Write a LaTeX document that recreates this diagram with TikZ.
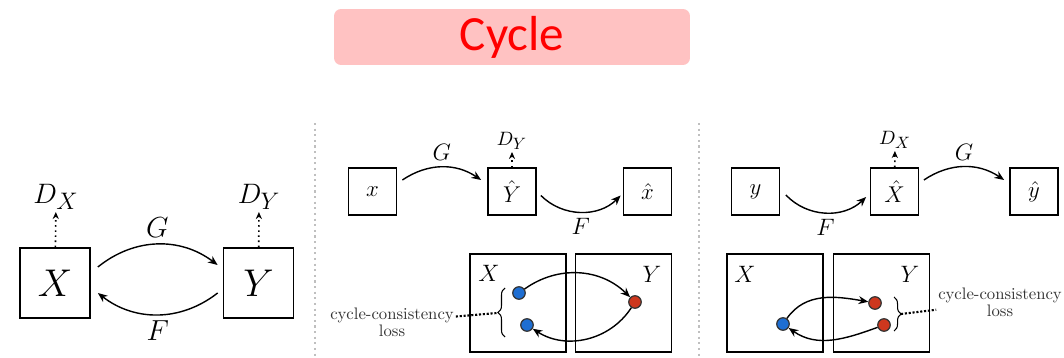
\RequirePackage{fix-cm}
\documentclass[tikz,border=0pt]{standalone}
\usepackage{fontspec}
\newfontfamily\titlefont{Carlito}
\usetikzlibrary{arrows.meta,decorations.pathreplacing}
\definecolor{titlepink}{RGB}{255,194,194}
\definecolor{titlered}{RGB}{255,0,0}
\definecolor{ptblue}{RGB}{30,110,210}
\definecolor{ptred}{RGB}{205,55,30}
\newcommand\discsub[2]{$#1_{\mbox{\scalebox{0.85}{$#2$}}}$}

\begin{document}
\begin{tikzpicture}[x=0.02cm, y=-0.02cm,
    box/.style={draw, line width=1pt, inner sep=0pt},
    smallbox/.style={box, minimum width=0.96cm, minimum height=0.94cm, font=\fontsize{13}{15}\selectfont},
    bigbox/.style={box, minimum width=1.92cm, minimum height=1.96cm},
    arr/.style={-{Stealth[length=5.5pt,width=4.5pt]}, line width=0.8pt},
    disc/.style={dotted, line width=0.9pt, -{Stealth[length=4pt,width=3.5pt]}},
    dot/.style={circle, draw=black!80, line width=0.7pt, minimum size=0.25cm, inner sep=0pt},
    sep/.style={dotted, gray!50, line width=1.2pt},
    brace/.style={decorate, decoration={brace, amplitude=4pt}, line width=0.6pt},
    lossline/.style={densely dotted, line width=1.2pt},
    losstext/.style={align=center, text=black!80, inner sep=1pt, font=\fontsize{9.5}{8.5}\selectfont},
    lblbig/.style={font=\fontsize{16.5}{19}\selectfont},
    lblmid/.style={font=\fontsize{13.5}{16}\selectfont},
    dbig/.style={inner sep=1pt, font=\fontsize{16}{18}\selectfont},
    dsmall/.style={inner sep=1pt, font=\fontsize{11}{13}\selectfont}]
  \useasboundingbox (0,0) rectangle (1064,358);

  % title
  \node[fill=titlepink, rounded corners=4pt, minimum width=7.12cm, minimum height=1.12cm,
        text=titlered, font=\titlefont\fontsize{28}{32}\selectfont] (title) at (512,37) {Cycle};

  % dividers
  \coordinate (s1t) at (315,123);
  \coordinate (s1b) at (315,358);
  \coordinate (s2t) at (699,123);
  \coordinate (s2b) at (699,358);
  \draw[sep] (s1t) -- (s1b);
  \draw[sep] (s2t) -- (s2b);

  % panel 1
  \node[box, minimum size=1.4cm, font=\fontsize{22}{26}\selectfont] (X) at (55,283) {$X$};
  \node[box, minimum size=1.4cm, font=\fontsize{22}{26}\selectfont] (Y) at (258.5,283) {$Y$};
  \node[dbig] (DX) at (56,197) {\discsub{D}{X}};
  \node[dbig] (DY) at (259,197) {\discsub{D}{Y}};
  \draw[disc] (X) -- (DX);
  \draw[disc] (Y) -- (DY);
  \draw[arr] ([shift={(7,-16)}]X.east) to[bend left=38]
    node[lblbig, above] {$G$} ([shift={(-5,-18)}]Y.west);
  \draw[arr] ([shift={(-5,10)}]Y.west) to[bend left=38]
    node[lblbig, below] {$F$} ([shift={(7,10)}]X.east);

  % panel 2, top row
  \node[smallbox] (x2) at (372.5,191.5) {$x$};
  \node[smallbox] (Yh2) at (512,191.5) {$\hat{Y}$};
  \node[smallbox] (xh2) at (647.5,191.5) {$\hat{x}$};
  \node[dsmall] (DY2) at (512,141) {\discsub{D}{Y}};
  \draw[disc] (Yh2) -- (DY2);
  \draw[arr] ([shift={(5,-11.5)}]x2.east) to[bend left=34]
    node[lblmid, above] {$G$} ([shift={(-6,-11.5)}]Yh2.west);
  \draw[arr] ([shift={(4,4)}]Yh2.east) to[bend right=45]
    node[lblmid, below] {$F$} ([shift={(-2,4)}]xh2.west);

  % panel 2, bottom row
  \node[bigbox] (BX2) at (518,303) {};
  \node[bigbox] (BY2) at (623.5,303) {};
  \node[lblmid] (BXl2) at (489,273) {$X$};
  \node[lblmid] (BYl2) at (652,274) {$Y$};
  \node[dot, fill=ptblue] (b21) at (519,293) {};
  \node[dot, fill=ptblue] (b22) at (527,325) {};
  \node[dot, fill=ptred] (r21) at (635,302) {};
  \draw[arr] (b21) to[bend left=40] (r21);
  \draw[arr] (r21) to[bend left=45] (b22);
  \coordinate (brL1) at (505,337);
  \coordinate (brL2) at (505,288);
  \coordinate (brLt) at (497,313);
  \draw[brace] (brL1) -- (brL2);
  \node[losstext] (lossL) at (392,322) {cycle-consistency\\loss};
  \draw[lossline] (lossL) -- (brLt);

  % panel 3, top row
  \node[smallbox] (y3) at (755.5,191.5) {$y$};
  \node[smallbox] (Xh3) at (894.5,191.5) {$\hat{X}$};
  \node[smallbox] (yh3) at (1034,191.5) {$\hat{y}$};
  \node[dsmall] (DX3) at (895,140) {\discsub{D}{X}};
  \draw[disc] (Xh3) -- (DX3);
  \draw[arr] ([shift={(5.5,3.5)}]y3.east) to[bend right=45]
    node[lblmid, below] {$F$} ([shift={(-3.5,5.5)}]Xh3.west);
  \draw[arr] ([shift={(4.5,-11.5)}]Xh3.east) to[bend left=34]
    node[lblmid, above] {$G$} ([shift={(-5,-11.5)}]yh3.west);

  % panel 3, bottom row
  \node[bigbox] (BX3) at (775,303) {};
  \node[bigbox] (BY3) at (881.5,303) {};
  \node[lblmid] (BXl3) at (745,274) {$X$};
  \node[lblmid] (BYl3) at (910,274) {$Y$};
  \node[dot, fill=ptblue] (b31) at (783,324) {};
  \node[dot, fill=ptred] (r31) at (875,303) {};
  \node[dot, fill=ptred] (r32) at (884,325) {};
  \draw[arr] (b31) to[out=55, in=170] (r31);
  \draw[arr] (r32) to[out=200, in=-35] (b31);
  \coordinate (brR1) at (894,297);
  \coordinate (brR2) at (894,331);
  \coordinate (brRt) at (901,314);
  \draw[brace] (brR1) -- (brR2);
  \node[losstext] (lossR) at (1000,302) {cycle-consistency\\loss};
  \draw[lossline] (brRt) -- (lossR);
\end{tikzpicture}
\end{document}
